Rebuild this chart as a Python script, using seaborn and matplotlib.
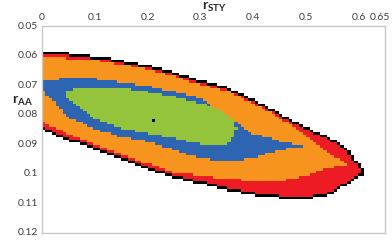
import numpy as np
import matplotlib
matplotlib.use("Agg")
import matplotlib.pyplot as plt
import matplotlib.transforms as mtransforms
import seaborn as sns
from matplotlib.colors import ListedColormap

# ── Data ─────────────────────────────────────────────────────────────────────
# x = r_STY, y = r_AA. Each band is bounded by a top / bottom curve in r_AA.
x_knots = [0, 0.05, 0.10, 0.15, 0.20, 0.25, 0.30, 0.35, 0.40, 0.45, 0.50, 0.55, 0.58, 0.60, 0.615]

edge_top = [0.0585, 0.0591, 0.0602, 0.0615, 0.0632, 0.0656, 0.0683, 0.0706, 0.0747,
            0.0794, 0.0842, 0.0882, 0.0919, 0.0963, 0.0997]
edge_bottom = [0.0852, 0.0886, 0.0919, 0.0953, 0.0984, 0.1014, 0.1034, 0.1055, 0.1072,
               0.1082, 0.1088, 0.1068, 0.1034, 0.1011, 0.0997]

orange_top = [0.0603, 0.0610, 0.0616, 0.0630, 0.0647, 0.0670, 0.0698, 0.0718, 0.0762,
              0.0809, 0.0872, 0.0936, 0.0970, 0.0970, 0.0970]
orange_bottom = [0.0825, 0.0866, 0.0901, 0.0935, 0.0965, 0.0995, 0.1007, 0.1017, 0.1024,
                 0.1024, 0.1007, 0.0977, 0.0970, 0.0970, 0.0970]

blue_knots = [0, 0.05, 0.10, 0.15, 0.20, 0.25, 0.30, 0.35, 0.40, 0.45, 0.50]
blue_top = [0.0686, 0.0676, 0.0679, 0.0689, 0.0703, 0.0723, 0.0743, 0.0801, 0.0865, 0.0889, 0.0906]
blue_bottom = [0.0716, 0.0808, 0.0848, 0.0875, 0.0892, 0.0919, 0.0946, 0.0960, 0.0946, 0.0919, 0.0906]

green_knots = [0.04, 0.06, 0.10, 0.15, 0.20, 0.25, 0.30, 0.35, 0.37]
green_top = [0.0727, 0.0713, 0.0706, 0.0710, 0.0723, 0.0740, 0.0760, 0.0787, 0.0845]
green_bottom = [0.0727, 0.0763, 0.0814, 0.0848, 0.0862, 0.0879, 0.0899, 0.0906, 0.0845]

marker_x = [0.21]
marker_y = [0.0818]

x_ticks = [0, 0.1, 0.2, 0.3, 0.4, 0.5, 0.6, 0.65]
x_tick_labels = ["0", "0.1", "0.2", "0.3", "0.4", "0.5", "0.6", "0.65"]
y_ticks = [0.05, 0.06, 0.07, 0.08, 0.09, 0.10, 0.11, 0.12]
y_tick_labels = ["0.05", "0.06", "0.07", "0.08", "0.09", "0.1", "0.11", "0.12"]

COLORS = ["#000000", "#ED1C24", "#F7941D", "#2E65B3", "#94C43C"]  # edge, red, orange, blue, green

# ── Grid ─────────────────────────────────────────────────────────────────────
DX, DY = 0.0065, 0.000875
Y0 = 0.05
nx, ny = 100, 80
xc = (np.arange(nx) + 0.5) * DX
yc = Y0 + (np.arange(ny) + 0.5) * DY
X, Y = np.meshgrid(xc, yc)


def curve(knots, vals):
    return np.interp(xc, knots, vals)[None, :]


t0, b0 = curve(x_knots, edge_top), curve(x_knots, edge_bottom)
t2, b2 = curve(x_knots, orange_top), curve(x_knots, orange_bottom)
t3, b3 = curve(blue_knots, blue_top), curve(blue_knots, blue_bottom)
t4, b4 = curve(green_knots, green_top), curve(green_knots, green_bottom)

inside = (Y >= t0) & (Y <= b0) & (X <= x_knots[-1])
# the region runs on past the left axis, so no outline there
pad = np.pad(inside, 1, mode="edge")
edge = inside & ~(pad[:-2, 1:-1] & pad[2:, 1:-1] & pad[1:-1, :-2] & pad[1:-1, 2:])

codes = np.select(
    [edge, (Y < t2) | (Y > b2), (Y < t3) | (Y > b3), (Y < t4) | (Y > b4)],
    [0, 1, 2, 3], default=4).astype(float)
codes[~inside] = np.nan
for mx, my in zip(marker_x, marker_y):
    codes[int((my - Y0) / DY), int(mx / DX)] = 0

# ── Plot ─────────────────────────────────────────────────────────────────────
plt.rcParams["font.family"] = "Lato"
plt.rcParams["mathtext.fontset"] = "custom"
plt.rcParams["mathtext.bf"] = "Lato:bold"
plt.rcParams["mathtext.rm"] = "Lato"

fig = plt.figure(figsize=(3.92, 2.41), dpi=100)
ax = fig.add_axes([42 / 392, 1 - 233 / 241, 343 / 392, 207 / 241])

sns.heatmap(codes, cmap=ListedColormap(COLORS), vmin=-0.5, vmax=4.5,
            cbar=False, ax=ax)

ax.set_xlim(0, nx)
ax.set_ylim(ny, 0)
ax.xaxis.tick_top()
ax.set_xticks(np.array(x_ticks) / DX)
ax.set_xticklabels(x_tick_labels, rotation=0)
ax.set_yticks((np.array(y_ticks) - Y0) / DY)
ax.set_yticklabels(y_tick_labels, rotation=0)
ax.tick_params(length=0, labelsize=7.5, colors="#404040", pad=3)
ax.set_xlabel(""); ax.set_ylabel("")
for s in ax.spines.values():
    s.set_visible(True)
    s.set_color("#c8c8c8")
    s.set_linewidth(1)

# keep the last x label inside the canvas
last = ax.get_xticklabels()[-1]
last.set_transform(last.get_transform() + mtransforms.ScaledTranslation(-5 / 100, 0, fig.dpi_scale_trans))

fig.text(214 / 392, 1 - 7 / 241, r"$\mathbf{r_{STY}}$", ha="center", va="center",
         fontsize=10, color="#262626")
fig.text(22 / 392, 1 - 101 / 241, r"$\mathbf{r_{AA}}$", ha="center", va="center",
         fontsize=10, color="#262626")

fig.savefig("out.png", dpi=100)
